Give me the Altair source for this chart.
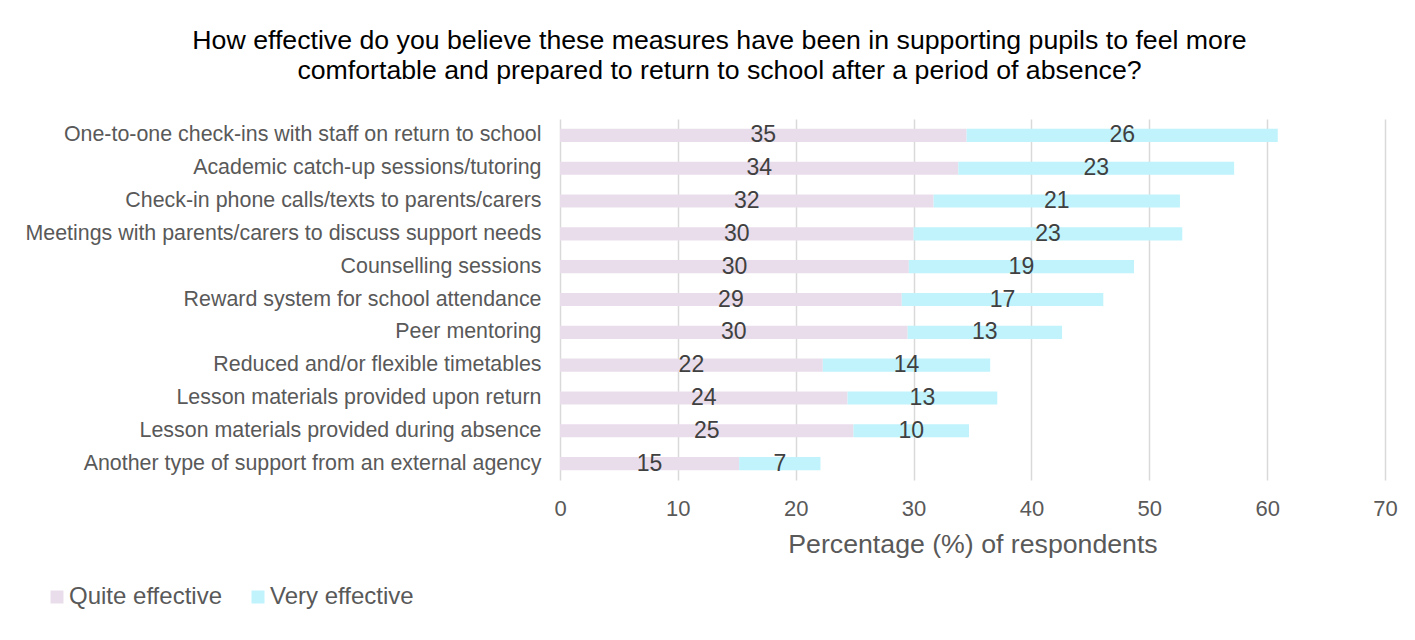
import altair as alt
import pandas as pd

FONT = "Liberation Sans"

categories = [
    "One-to-one check-ins with staff on return to school",
    "Academic catch-up sessions/tutoring",
    "Check-in phone calls/texts to parents/carers",
    "Meetings with parents/carers to discuss support needs",
    "Counselling sessions",
    "Reward system for school attendance",
    "Peer mentoring",
    "Reduced and/or flexible timetables\u00a0",
    "Lesson materials provided upon return",
    "Lesson materials provided during absence",
    "Another type of support from an external agency",
]
quite = [34.5, 33.8, 31.7, 30.0, 29.6, 29.0, 29.5, 22.3, 24.4, 24.9, 15.2]
very = [26.4, 23.4, 20.9, 22.8, 19.1, 17.1, 13.1, 14.2, 12.7, 9.8, 6.9]
quite_labels = ["35", "34", "32", "30", "30", "29", "30", "22", "24", "25", "15"]
very_labels = ["26", "23", "21", "23", "19", "17", "13", "14", "13", "10", "7"]
series = ["Quite effective", "Very effective"]
colors = ["#E9DDEB", "#C0F3FC"]
x_ticks = [0, 10, 20, 30, 40, 50, 60, 70]

title_lines = [
    "How effective do you believe these measures have been in supporting pupils to feel more",
    "comfortable and prepared to return to school after a period of absence?",
]

rows = []
for i, c in enumerate(categories):
    rows.append(dict(measure=c, level=series[0], order=0, value=quite[i], label=quite_labels[i]))
    rows.append(dict(measure=c, level=series[1], order=1, value=very[i], label=very_labels[i]))
df = pd.DataFrame(rows)

base = alt.Chart(df).transform_stack(
    stack="value",
    groupby=["measure"],
    as_=["x0", "x1"],
    sort=[alt.SortField("order", order="ascending")],
).transform_calculate(mid="(datum.x0 + datum.x1) / 2")

y_enc = alt.Y(
    "measure:N",
    sort=categories,
    scale=alt.Scale(paddingInner=0.6, paddingOuter=0.3),
    axis=alt.Axis(
        title=None,
        domain=False,
        ticks=False,
        tickSize=0,
        labelPadding=19,
        labelFontSize=21.4,
        labelColor="#595959",
        labelFont=FONT,
        labelLimit=700,
        grid=False,
    ),
)

bars = base.mark_bar().encode(
    x=alt.X(
        "x0:Q",
        scale=alt.Scale(domain=[0, 70], nice=False),
        axis=alt.Axis(
            values=x_ticks,
            title="Percentage (%) of respondents",
            titleFontSize=26.7,
            titleFontWeight="normal",
            titleColor="#595959",
            titleFont=FONT,
            titlePadding=12,
            labelFontSize=22,
            labelColor="#595959",
            labelFont=FONT,
            labelPadding=18,
            labelFlush=False,
            domain=False,
            ticks=False,
            tickSize=0,
            grid=True,
            gridColor="#D9D9D9",
            gridWidth=1.5,
        ),
    ),
    x2="x1:Q",
    y=y_enc,
    color=alt.Color(
        "level:N",
        scale=alt.Scale(domain=series, range=colors),
        legend=alt.Legend(
            title=None,
            orient="none",
            legendX=-515,
            legendY=466,
            direction="horizontal",
            symbolType="square",
            symbolSize=169,
            symbolStrokeWidth=0,
            labelFontSize=24,
            labelColor="#595959",
            labelFont=FONT,
            labelOffset=0,
            columnPadding=24,
            labelLimit=400,
        ),
    ),
)

texts = base.mark_text(
    fontSize=23, color="#404040", font=FONT, baseline="middle", align="center"
).encode(
    x=alt.X("mid:Q"),
    y=alt.Y("measure:N", sort=categories),
    text="label:N",
)

chart = (
    alt.layer(bars, texts)
    .properties(
        width=825,
        height=361,
        title=alt.TitleParams(
            text=title_lines,
            fontSize=26.7,
            font=FONT,
            fontWeight="normal",
            color="#000000",
            anchor="middle",
            dx=-253,
            offset=34,
            lineHeight=30,
        ),
        autosize=alt.AutoSizeParams(type="none"),
        padding={"left": 552, "top": 111, "right": 20, "bottom": 140},
        background="white",
    )
    .configure_view(stroke=None)
)

chart.save("out.html", embed_options={"renderer": "svg", "actions": False})
